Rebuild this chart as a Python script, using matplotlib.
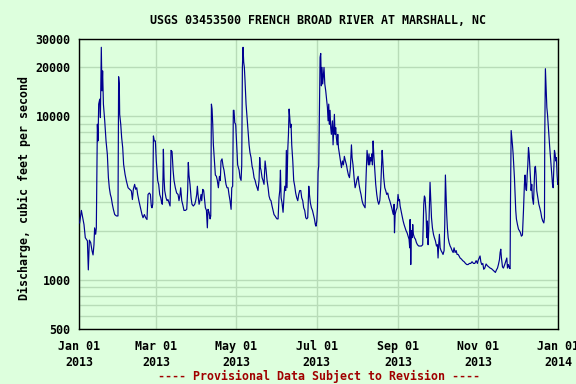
import numpy as np
import pandas as pd
import matplotlib
matplotlib.use("Agg")
import matplotlib.pyplot as plt
from matplotlib.ticker import FixedLocator, NullFormatter

# daily discharge (cfs); days counted from 2013-01-01
days_janfeb = [0.5, 1.8, 3.8, 4.8, 6.4, 7.1, 7.9, 8.9, 9.9, 10.7,
               11.4, 11.9, 12.7, 13.2, 14.0, 14.5, 15.0, 15.8, 16.3, 17.0,
               17.5, 18.0, 18.6, 19.6, 20.6, 21.6, 22.4, 23.1, 23.9, 24.6,
               25.4, 26.2, 27.2, 28.5, 29.7, 30.2, 30.7, 31.0, 31.8, 32.5,
               33.3, 34.0, 35.1, 36.1, 37.4, 38.6, 39.9, 40.7, 41.4, 42.4,
               43.2, 44.0, 44.7, 45.7, 46.8, 48.0, 48.8, 49.8, 50.8, 51.8,
               52.6, 53.6, 54.4, 55.1, 55.6, 56.2, 56.7, 57.4, 58.2, 58.9,
               60.0]
cfs_janfeb = [2230, 2660, 2180, 1810, 1730, 1150, 1750, 1690, 1510, 1420,
              1640, 2080, 1900, 2080, 8960, 7080, 11900, 12760, 9840, 26500,
              14350, 19000, 11900, 9400, 7080, 5860, 4220, 3660, 3330, 3180,
              2900, 2700, 2510, 2460, 2460, 17500, 15800, 10300, 8960, 7430,
              6440, 5090, 4420, 4030, 3660, 3580, 3500, 3100, 3580, 3840,
              3580, 3660, 3330, 3030, 2760, 2510, 2400, 2510, 2400, 2340,
              3330, 3400, 3330, 2830, 2760, 2900, 7600, 7080, 7080, 5340,
              4030]

days_marapr = [60.7, 61.5, 62.3, 63.0, 63.5, 64.0, 64.3, 64.8, 65.3, 66.3,
               67.1, 67.8, 68.6, 69.4, 70.1, 70.9, 71.7, 72.4, 73.4, 74.4,
               75.5, 76.2, 77.0, 77.5, 78.3, 79.0, 80.0, 81.1, 82.1, 82.8,
               83.3, 83.8, 84.6, 85.4, 86.1, 87.1, 88.2, 88.9, 89.7, 90.2,
               90.7, 91.5, 92.2, 93.0, 93.5, 94.3, 95.0, 95.8, 96.3, 97.1,
               97.8, 98.3, 99.1, 99.9, 100.4, 100.9, 101.4, 101.9, 102.4, 103.2,
               103.9, 104.7, 105.4, 106.2, 107.0, 107.7, 108.2, 109.0, 109.8, 110.5,
               111.3, 112.0, 112.8, 113.6, 114.3, 115.1, 115.9, 116.4, 117.1, 117.6,
               118.1, 118.7, 119.4, 120.2, 120.9]
cfs_marapr = [3840, 3330, 3180, 2960, 2900, 4220, 6300, 4220, 3520, 3180,
              3050, 3100, 2960, 2830, 6200, 6100, 4690, 4060, 3660, 3400,
              3330, 3050, 3330, 3660, 3050, 2900, 2660, 2660, 2700, 3520,
              5230, 4380, 3840, 3180, 2900, 2830, 2900, 3050, 3330, 3740,
              3330, 2900, 3050, 3330, 3050, 3580, 3520, 3050, 2760, 2660,
              2080, 2700, 2590, 2360, 2460, 11900, 11100, 8960, 6700, 5340,
              4380, 4300, 4060, 3660, 4300, 4060, 5340, 5500, 4950, 4690,
              4220, 3840, 3660, 3660, 3330, 3050, 2700, 3660, 3740, 10900,
              10900, 9150, 8960, 6700, 5050]

days_mayjun = [122.0, 122.7, 123.5, 124.0, 124.5, 125.0, 125.5, 126.0, 126.5, 127.3,
               128.1, 128.8, 129.6, 130.3, 131.1, 131.9, 132.6, 133.4, 134.2, 134.9,
               135.7, 136.4, 137.2, 137.7, 138.2, 138.7, 139.5, 140.2, 141.0, 141.8,
               142.5, 143.3, 144.1, 144.8, 145.6, 146.3, 147.1, 147.9, 148.6, 149.4,
               150.2, 150.9, 151.7, 152.4, 153.0, 153.5, 154.0, 154.7, 155.5, 156.3,
               156.8, 157.5, 158.0, 158.5, 159.1, 159.6, 160.1, 160.6, 161.1, 161.6,
               162.1, 162.9, 163.6, 164.4, 165.1, 165.9, 166.7, 167.4, 168.2, 169.0,
               169.7, 170.5, 171.2, 172.0, 172.8, 173.5, 174.3, 175.1, 175.6, 176.3,
               177.1, 177.9, 178.6, 179.4, 180.1, 180.6, 181.2, 181.7, 182.2, 182.7,
               183.2]
cfs_mayjun = [4690, 4220, 4060, 5050, 19960, 26500, 21500, 19960, 16600, 11900,
              9850, 8200, 6700, 6000, 5600, 4950, 4690, 4220, 4060, 3840,
              3660, 3520, 4060, 5600, 4860, 4690, 4220, 4060, 3840, 5340,
              4770, 4060, 3660, 3260, 3100, 3050, 2830, 2660, 2510, 2460,
              2400, 2360, 2360, 3180, 3520, 4690, 3180, 2960, 2590, 3330,
              3740, 3520, 6200, 3660, 6300, 7770, 11100, 9850, 8550, 8960,
              6700, 5340, 4060, 3740, 3400, 3180, 3050, 3330, 3520, 3520,
              3180, 3050, 2760, 2660, 2400, 2360, 2400, 3740, 3330, 2960,
              2760, 2660, 2510, 2360, 2180, 2130, 2290, 2760, 4600, 5000,
              10500]

days_julaug = [183.7, 184.2, 184.7, 185.2, 185.7, 186.2, 186.7, 187.3, 188.0, 188.8,
               189.3, 189.8, 190.3, 190.8, 191.3, 191.8, 192.3, 193.1, 193.6, 194.1,
               194.6, 195.1, 195.6, 196.1, 196.7, 197.2, 197.7, 198.4, 199.2, 200.0,
               200.7, 201.5, 202.2, 203.0, 203.8, 204.5, 205.3, 206.1, 206.8, 207.6,
               208.1, 208.8, 209.6, 210.4, 211.1, 211.9, 212.7, 213.4, 214.2, 214.9,
               215.7, 216.5, 217.2, 218.0, 218.8, 219.5, 220.0, 220.5, 221.0, 221.5,
               222.1, 222.6, 223.1, 223.6, 224.1, 224.6, 225.4, 226.1, 226.9, 227.6,
               228.4, 229.2, 229.9, 230.4, 231.0, 231.5, 232.2, 233.0, 233.7, 234.5,
               235.3, 236.0, 236.8, 237.6, 238.3, 239.1, 239.6, 240.1, 240.4, 240.9,
               241.6, 242.4]
cfs_julaug = [23000, 24300, 15400, 19960, 15800, 17950, 19960, 15800, 14350, 12500,
              11350, 9400, 11900, 8960, 10900, 8550, 7770, 9400, 6700, 8200,
              10300, 7770, 8550, 7430, 6700, 7770, 6450, 5900, 5340, 4860,
              5340, 5050, 5700, 5340, 5050, 4690, 4380, 4220, 4860, 6700,
              5600, 5050, 4220, 3660, 3840, 4130, 4300, 3840, 3520, 3330,
              3050, 2900, 2830, 2760, 4380, 6200, 5600, 5050, 5900, 5050,
              5600, 5340, 5900, 5050, 7080, 5900, 4690, 3840, 3330, 3050,
              2900, 3050, 3660, 4690, 6200, 5340, 4220, 3660, 3520, 3330,
              3400, 3180, 3050, 2900, 2760, 2590, 2510, 2900, 1940, 2510,
              2660, 2760]

days_sepoct = [243.1, 243.7, 244.2, 244.7, 245.4, 246.2, 247.0, 247.7, 248.5, 249.2,
               250.0, 250.8, 251.5, 252.0, 252.3, 252.8, 253.3, 253.8, 254.3, 254.8,
               255.6, 256.4, 257.1, 257.9, 258.9, 259.9, 260.9, 261.9, 262.7, 263.2,
               263.7, 264.5, 265.0, 265.5, 266.0, 266.5, 267.0, 267.5, 268.0, 268.6,
               269.3, 270.1, 270.8, 271.6, 272.4, 273.1, 273.6, 274.1, 274.6, 275.2,
               275.9, 276.7, 277.4, 278.2, 278.7, 279.2, 279.7, 280.2, 280.7, 281.3,
               282.0, 282.8, 283.5, 284.3, 285.1, 285.8, 286.6, 287.4, 288.1, 288.9,
               289.6, 290.4, 291.4, 292.4, 293.5, 294.5, 295.5, 296.5, 297.5, 298.5,
               299.5, 300.6, 301.6, 302.6, 303.6]
cfs_sepoct = [3330, 3050, 3100, 2830, 2660, 2460, 2290, 2180, 2080, 2000,
              1940, 1850, 1770, 1570, 2340, 1240, 2000, 1810, 2180, 1900,
              1810, 1770, 1690, 1640, 1610, 1610, 1610, 1640, 2900, 3260,
              3180, 2510, 1810, 2290, 1640, 2000, 2900, 3950, 3180, 2400,
              2080, 1900, 1810, 1730, 1610, 1640, 1360, 1640, 1900, 1570,
              1510, 1470, 1430, 1510, 2180, 4380, 3330, 2510, 2080, 1810,
              1690, 1610, 1570, 1510, 1470, 1570, 1470, 1510, 1430, 1430,
              1400, 1360, 1340, 1310, 1290, 1260, 1240, 1240, 1260, 1260,
              1290, 1260, 1260, 1310, 1260]

days_novdec = [304.1, 304.9, 305.6, 306.2, 306.9, 307.7, 308.4, 309.2, 310.2, 311.2,
               312.2, 313.3, 314.3, 315.3, 316.3, 317.3, 318.1, 318.9, 319.6, 320.4,
               320.9, 321.4, 321.9, 322.7, 323.4, 324.4, 325.2, 326.0, 326.5, 327.2,
               328.0, 328.5, 328.8, 329.3, 329.8, 330.3, 330.8, 331.3, 331.8, 332.3,
               332.8, 333.3, 334.1, 334.9, 335.6, 336.4, 337.1, 337.9, 338.7, 339.4,
               339.9, 340.5, 341.0, 341.5, 342.0, 342.5, 343.0, 343.5, 344.0, 344.5,
               345.0, 345.5, 346.3, 346.8, 347.3, 347.8, 348.3, 348.8, 349.6, 350.4,
               351.1, 351.9, 352.6, 353.4, 354.2, 354.7, 354.9, 355.4, 356.0, 356.5,
               357.0, 357.5, 358.0, 358.7, 359.5, 360.3, 360.8, 361.3, 361.8, 362.3,
               362.8, 363.3, 363.8, 364.3, 364.8, 365.0]
cfs_novdec = [1310, 1360, 1400, 1290, 1240, 1260, 1160, 1180, 1250, 1220,
              1200, 1180, 1170, 1150, 1130, 1110, 1150, 1180, 1240, 1330,
              1470, 1540, 1360, 1200, 1180, 1240, 1300, 1360, 1180, 1240,
              1180, 1170, 3050, 8200, 7430, 6700, 5900, 5050, 4220, 3330,
              2660, 2360, 2180, 2040, 2000, 1940, 1850, 1880, 2660, 3840,
              4380, 3580, 3520, 4380, 5050, 6450, 5900, 5050, 4220, 3520,
              3840, 3180, 2900, 3840, 4860, 4950, 4380, 3520, 3180, 2900,
              2760, 2590, 2400, 2290, 2230, 2400, 7430, 19600, 14350, 11350,
              10300, 8960, 7770, 6450, 5340, 4380, 3840, 3660, 4860, 6200,
              5900, 5340, 5600, 4380, 3840, 4060]

tick_dates = ["2013-01-01", "2013-03-01", "2013-05-01", "2013-07-01",
              "2013-09-01", "2013-11-01", "2014-01-01"]
tick_labels = ["Jan 01\n2013", "Mar 01\n2013", "May 01\n2013", "Jul 01\n2013",
               "Sep 01\n2013", "Nov 01\n2013", "Jan 01\n2014"]
y_major = [500, 1000, 10000, 20000, 30000]
y_minor = [600, 700, 800, 900, 2000, 3000, 4000, 5000, 6000, 7000, 8000, 9000]

days = np.concatenate([days_janfeb, days_marapr, days_mayjun,
                       days_julaug, days_sepoct, days_novdec])
cfs = np.concatenate([cfs_janfeb, cfs_marapr, cfs_mayjun,
                      cfs_julaug, cfs_sepoct, cfs_novdec])
dates = pd.Timestamp("2013-01-01") + pd.to_timedelta(days, unit="D")

bg = "#ddffdd"
grid_col = "#b8dcb8"
font = {"family": "DejaVu Sans Mono", "weight": "bold", "size": 8.4}

fig = plt.figure(figsize=(5.76, 3.84), dpi=100, facecolor=bg)
ax = fig.add_axes([79 / 576, 1 - 329 / 384, 479 / 576, 290.5 / 384])
ax.set_facecolor(bg)

ax.plot(dates, cfs, color="#000090", linewidth=0.85, zorder=3)

ax.set_yscale("log")
ax.set_ylim(500, 30000)
ax.yaxis.set_major_locator(FixedLocator(y_major))
ax.yaxis.set_minor_locator(FixedLocator(y_minor))
ax.yaxis.set_minor_formatter(NullFormatter())
ax.set_yticklabels([str(v) for v in y_major], fontdict=font)

ax.set_xlim(pd.Timestamp("2013-01-01"), pd.Timestamp("2014-01-01"))
ax.set_xticks(pd.to_datetime(tick_dates))
ax.set_xticklabels(tick_labels, fontdict=font, linespacing=1.25)

ax.tick_params(axis="both", which="both", length=0)
ax.tick_params(axis="y", pad=6)
ax.tick_params(axis="x", pad=8)
ax.grid(True, which="both", color=grid_col, linewidth=1.0, zorder=1)

for s in ax.spines.values():
    s.set_color("black")
    s.set_linewidth(1.0)

cx = (79 + 558) / 2 / 576
fig.text(cx, 1 - 20 / 384, "USGS 03453500 FRENCH BROAD RIVER AT MARSHALL, NC",
         ha="center", va="center", color="black", **font)
fig.text(24 / 576, 1 - 188 / 384, "Discharge, cubic feet per second",
         rotation=90, ha="center", va="center", color="black", **font)
fig.text(cx, 1 - 376 / 384, "---- Provisional Data Subject to Revision ----",
         ha="center", va="center", color="#a00000", **font)

fig.savefig("out.png", dpi=100, facecolor=bg)
